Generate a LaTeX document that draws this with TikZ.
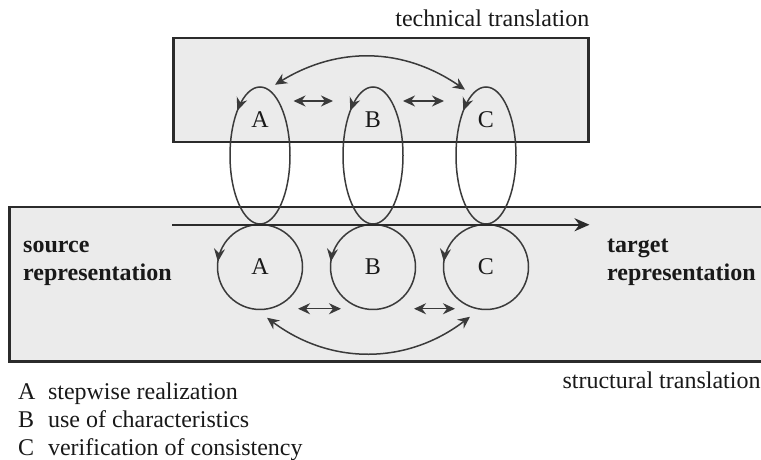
\documentclass[tikz,border=0pt]{standalone}
\usepackage{fontspec}
\setmainfont{Liberation Serif}
\usepackage{tikz}
\usetikzlibrary{positioning,shapes.geometric,arrows.meta,decorations.markings}
\definecolor{panelfill}{HTML}{EBEBEB}
\definecolor{panelline}{HTML}{2B2B2B}
\definecolor{loopline}{HTML}{3A3A3A}

\begin{document}
\begin{tikzpicture}[
        x=1pt, y=1pt,
        node distance=113pt,
        every node/.style={
            inner sep=0pt,
            text=black!90,
            font=\fontsize{24}{28}\selectfont
        },
        panel/.style={
            rectangle,
            draw=panelline,
            fill=panelfill,
            line width=2.4pt
        },
        spin/.style={
            draw=loopline,
            line width=1.5pt,
            postaction={decorate},
            decoration={
                markings,
                mark=at position #1 with {\arrow{Stealth[length=13pt,width=11pt]}}
            }
        },
        flow/.style={
            -{Stealth[length=15pt,width=13pt]},
            line width=2.2pt,
            color=panelline
        },
        dbl/.style={
            {Stealth[length=12pt,width=11pt]}-{Stealth[length=12pt,width=11pt]},
            line width=1.5pt,
            color=loopline
        },
        heading/.style={
            font=\fontsize{24}{28}\selectfont\bfseries
        }
    ]
        \useasboundingbox (0,0) rectangle (761,460);

        % the two translation panels
        \node[panel, minimum width=415pt, minimum height=104pt] (tech) at (380.8,369.7) {};
        \node[panel, minimum width=757pt, minimum height=154.4pt, anchor=west] (struct) at (8.3,175.5) {};
        \node (techlbl) [anchor=base east] at ([yshift=11pt]tech.north east) {technical translation};
        \node (structlbl) [anchor=base east] at ([xshift=-7pt,yshift=-26pt]struct.south east) {structural translation};

        % upper loops
        \node[spin=0.358, ellipse, minimum width=60pt, minimum height=137pt] (eA) at (260,304.5) {};
        \node[spin=0.358, ellipse, minimum width=60pt, minimum height=137pt] (eB) [right of=eA] {};
        \node[spin=0.358, ellipse, minimum width=60pt, minimum height=137pt] (eC) [right of=eB] {};
        \node (tA) [above of=eA, node distance=35.5pt] {A};
        \node (tB) [above of=eB, node distance=35.5pt] {B};
        \node (tC) [above of=eC, node distance=35.5pt] {C};

        % lower loops
        \node[spin=0.48, circle, minimum size=85pt] (cA) [below of=eA, node distance=111.5pt] {A};
        \node[spin=0.48, circle, minimum size=85pt] (cB) [below of=eB, node distance=111.5pt] {B};
        \node[spin=0.48, circle, minimum size=85pt] (cC) [below of=eC, node distance=111.5pt] {C};

        \node (src) [heading, anchor=base west] at (23,207) {\begin{tabular}[t]{@{}l@{}}source\\representation\end{tabular}};
        \node (tgt) [heading, anchor=base west] at (607,207) {\begin{tabular}[t]{@{}l@{}}target\\representation\end{tabular}};

        \draw[flow] (tech.west |- eA.south) -- (tech.east |- eA.south);

        \draw[dbl] ([shift={(33.5,19)}]tA.center) -- ([shift={(-40,19)}]tB.center);
        \draw[dbl] ([shift={(30,19)}]tB.center) -- ([shift={(-42,19)}]tC.center);
        \draw[dbl] ([shift={(15,1.5)}]eA.north) to[bend left=33] ([shift={(-21,-3.5)}]eC.north);

        \draw[dbl] ([shift={(38,1.5)}]cA.south) -- ([shift={(-32,1.5)}]cB.south);
        \draw[dbl] ([shift={(41,1.5)}]cB.south) -- ([shift={(-31,1.5)}]cC.south);
        \draw[dbl] ([shift={(7,-7.5)}]cA.south) to[bend right=37] ([shift={(-16,-6.5)}]cC.south);

        % legend
        \node (legend) [anchor=base west] at (18,60) {\begin{tabular}[t]{@{}l@{\hspace{12.5pt}}l@{}}
            A & stepwise realization\\
            B & use of characteristics\\
            C & verification of consistency
        \end{tabular}};
    \end{tikzpicture}
\end{document}
